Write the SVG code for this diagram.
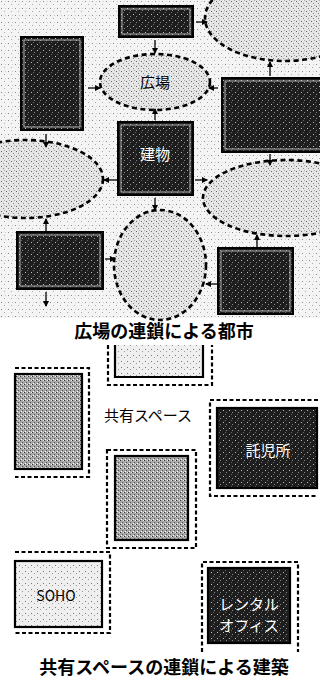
<svg xmlns="http://www.w3.org/2000/svg" width="320" height="680" viewBox="0 0 320 680">
<style>
.bg{fill:url(#speck)}
.plaza{fill:url(#dense);stroke:#000;stroke-width:2.6;stroke-dasharray:5 3.5}
.bld{fill:url(#darkp);stroke:#000;stroke-width:2}
.inner{fill:none;stroke:#fff;stroke-width:0.8;opacity:0.8}
.lbl{font-family:"Noto Sans CJK JP","Liberation Sans",sans-serif;text-anchor:middle}
.wt{fill:#fff;font-size:15px}
.bk{fill:#000;font-size:15px}
.title{font-family:"Noto Sans CJK JP","Liberation Sans",sans-serif;text-anchor:middle;font-size:18px;font-weight:bold;fill:#000}
.arr{stroke:#000;stroke-width:1.3;fill:none;marker-end:url(#ah)}
.dash{fill:none;stroke:#000;stroke-width:2.2;stroke-dasharray:4 2.5}
.box{stroke:#000;stroke-width:2.2}
</style>
<defs>
<pattern id="speck" width="7" height="7" patternUnits="userSpaceOnUse">
<rect width="7" height="7" fill="#f4f4f4"/>
<rect x="1" y="1" width="1" height="1" fill="#888"/>
<rect x="4" y="4" width="1" height="1" fill="#aaa"/>
<rect x="5" y="1" width="1" height="1" fill="#ccc"/>
</pattern>
<pattern id="dense" width="5" height="5" patternUnits="userSpaceOnUse">
<rect width="5" height="5" fill="#e6e6e6"/>
<rect x="1" y="1" width="1" height="1" fill="#666"/>
<rect x="3" y="3" width="1" height="1" fill="#888"/>
<rect x="4" y="0" width="1" height="1" fill="#aaa"/>
</pattern>
<pattern id="darkp" width="6" height="6" patternUnits="userSpaceOnUse">
<rect width="6" height="6" fill="#1e1e1e"/>
<rect x="1" y="2" width="1" height="1" fill="#bbb"/>
<rect x="4" y="4" width="1" height="1" fill="#888"/>
<rect x="3" y="0" width="1" height="1" fill="#666"/>
</pattern>
<pattern id="midp" width="4" height="4" patternUnits="userSpaceOnUse">
<rect width="4" height="4" fill="#a8a8a8"/>
<rect x="0" y="0" width="1" height="1" fill="#333"/>
<rect x="2" y="2" width="1" height="1" fill="#555"/>
<rect x="3" y="0" width="1" height="1" fill="#eee"/>
<rect x="1" y="3" width="1" height="1" fill="#fff"/>
</pattern>
<pattern id="lightp" width="6" height="6" patternUnits="userSpaceOnUse">
<rect width="6" height="6" fill="#efefef"/>
<rect x="1" y="1" width="1" height="1" fill="#777"/>
<rect x="4" y="3" width="1" height="1" fill="#999"/>
</pattern>
<marker id="ah" viewBox="0 0 6 6" refX="5" refY="3" markerWidth="6" markerHeight="6" markerUnits="userSpaceOnUse" orient="auto">
<path d="M0,0 L6,3 L0,6 Z" fill="#000"/>
</marker>
</defs>
<rect width="320" height="680" fill="#fff"/>
<rect id="city-bg" x="0" y="0" width="320" height="318" class="bg"/>

<g id="plaza-topright"><ellipse cx="285" cy="18" rx="80" ry="43" class="plaza"/></g>
<g id="plaza-left"><ellipse cx="25" cy="179" rx="78" ry="39" class="plaza"/></g>
<g id="plaza-right"><ellipse cx="286" cy="198" rx="83" ry="38" class="plaza"/></g>
<g id="plaza-bottom"><ellipse cx="160" cy="265" rx="46" ry="55" class="plaza"/></g>
<g id="plaza-main"><ellipse cx="155" cy="82" rx="55" ry="28" class="plaza"/>
<text x="155" y="88" class="lbl bk">広場</text></g>

<g id="bld-top"><rect x="119" y="6" width="74" height="31" class="bld"/><rect x="122" y="9" width="68" height="25" class="inner"/></g>
<g id="bld-left"><rect x="21" y="37" width="62" height="93" class="bld"/><rect x="24" y="40" width="56" height="87" class="inner"/></g>
<g id="bld-right"><rect x="222" y="78" width="110" height="74" class="bld"/><rect x="225" y="81" width="104" height="68" class="inner"/></g>
<g id="bld-center"><rect x="118" y="122" width="75" height="73" class="bld"/><rect x="121" y="125" width="69" height="67" class="inner"/>
<text x="155" y="160" class="lbl wt">建物</text></g>
<g id="bld-bottomleft"><rect x="17" y="232" width="86" height="57" class="bld"/><rect x="20" y="235" width="80" height="51" class="inner"/></g>
<g id="bld-bottomright"><rect x="218" y="248" width="75" height="66" class="bld"/><rect x="221" y="251" width="69" height="60" class="inner"/></g>

<g id="connectors">
<line x1="155" y1="40" x2="155" y2="53" class="arr"/>
<line x1="88" y1="88" x2="100" y2="88" class="arr"/>
<line x1="218" y1="88" x2="209" y2="88" class="arr"/>
<line x1="155" y1="120" x2="155" y2="109" class="arr"/>
<line x1="196" y1="22" x2="207" y2="22" class="arr"/>
<line x1="270" y1="76" x2="270" y2="62" class="arr"/>
<line x1="46" y1="134" x2="46" y2="147" class="arr"/>
<line x1="270" y1="154" x2="270" y2="165" class="arr"/>
<line x1="117" y1="180" x2="104" y2="180" class="arr"/>
<line x1="195" y1="180" x2="207" y2="180" class="arr"/>
<line x1="155" y1="198" x2="155" y2="210" class="arr"/>
<line x1="46" y1="231" x2="46" y2="219" class="arr"/>
<line x1="105" y1="259" x2="115" y2="259" class="arr"/>
<line x1="46" y1="292" x2="46" y2="306" class="arr"/>
<line x1="257" y1="247" x2="257" y2="235" class="arr"/>
<line x1="217" y1="284" x2="206" y2="284" class="arr"/>
</g>

<text id="title-city" x="164" y="338" class="title">広場の連鎖による都市</text>

<g id="space-top">
<rect x="115" y="345" width="88" height="32" fill="url(#lightp)"/>
<path d="M115,345 V377 H203 V345" fill="none" class="box"/>
<path d="M108,345 V385 H212 V345" class="dash"/>
</g>
<g id="space-left">
<rect x="15" y="374" width="67" height="95" fill="url(#midp)" class="box"/>
<path d="M15,368 H89 V477 H15" class="dash"/>
</g>
<text id="shared-label" x="148" y="421" class="lbl bk">共有スペース</text>
<g id="daycare">
<rect x="217" y="408" width="100" height="80" class="box" fill="url(#darkp)"/>
<path d="M318,400 H210 V496 H318" class="dash"/>
<text x="268" y="456" class="lbl wt">託児所</text>
</g>
<g id="space-center">
<rect x="115" y="456" width="73" height="84" fill="url(#midp)" class="box"/>
<path d="M107,450 H196 V548 H107 Z" class="dash"/>
</g>
<g id="soho">
<rect x="15" y="561" width="87" height="66" fill="url(#lightp)" class="box"/>
<path d="M15,552 H110 V633 H15" class="dash"/>
<text x="56" y="601" class="lbl bk" style="font-size:14px">SOHO</text>
</g>
<g id="rental">
<rect x="208" y="568" width="82" height="75" fill="url(#darkp)" class="box"/>
<path d="M202,652 V562 H298 V652" class="dash"/>
<text x="249" y="610" class="lbl wt" style="font-size:15px">レンタル</text>
<text x="249" y="631" class="lbl wt" style="font-size:15px">オフィス</text>
</g>
<text id="title-arch" x="164" y="674" class="title">共有スペースの連鎖による建築</text>
</svg>
